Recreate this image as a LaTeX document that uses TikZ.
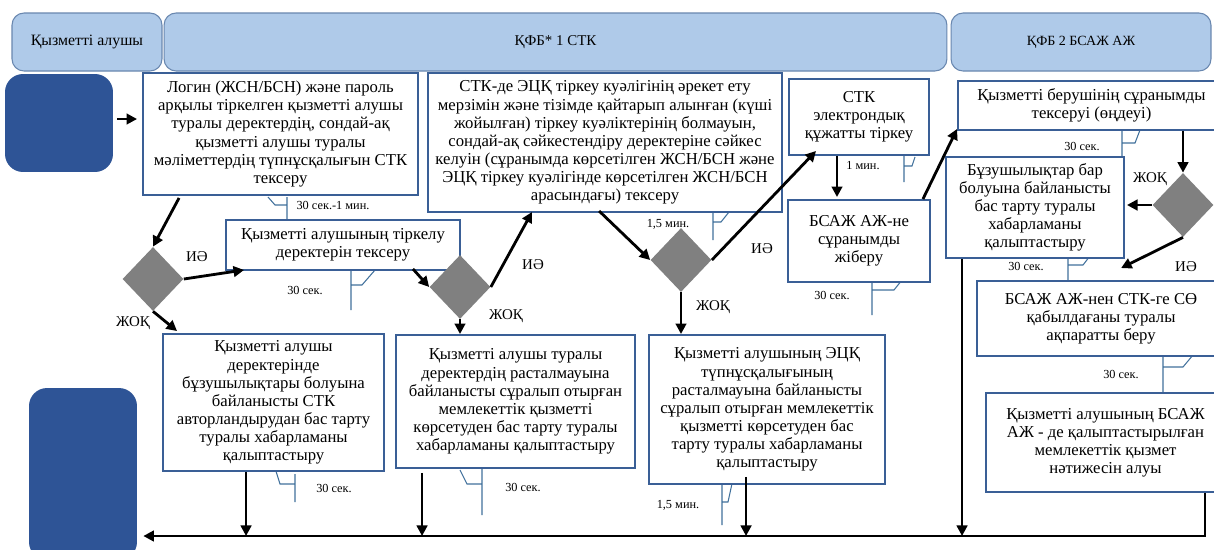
\documentclass[tikz,border=0pt]{standalone}
\usepackage{fontspec}
\setmainfont{Liberation Serif}
\usetikzlibrary{shapes.geometric,calc,arrows.meta}

\definecolor{laneblue}{RGB}{175,202,233}
\definecolor{laneedge}{RGB}{105,135,175}
\definecolor{termblue}{RGB}{46,84,150}
\definecolor{boxedge}{RGB}{58,95,150}
\definecolor{calloutblue}{RGB}{65,113,156}
\definecolor{diagray}{RGB}{128,128,128}

\begin{document}
\begin{tikzpicture}[x=0.02cm,y=-0.02cm,
  lane/.style={draw=laneedge,fill=laneblue,line width=0.6pt,rounded corners=0.24cm,inner sep=0pt},
  term/.style={fill=termblue,rounded corners=0.36cm,inner sep=0pt,minimum width=2.16cm},
  box/.style={draw=boxedge,fill=white,line width=1.1pt,align=center,inner sep=2pt,font=\fontsize{9.5}{10.3}\selectfont},
  dia/.style={diamond,fill=diagray,inner sep=0pt,minimum width=1.22cm,minimum height=1.28cm},
  arr/.style={line width=1.6pt,-{Triangle[length=6pt,width=6pt]}},
  lbl/.style={inner sep=1pt,font=\fontsize{8.5}{9}\selectfont},
  tlbl/.style={inner sep=1pt,font=\fontsize{7}{7.5}\selectfont},
  cline/.style={draw=calloutblue,line width=0.6pt}]
  \clip (0,0) rectangle (1214,549);
  \fill[white] (0,0) rectangle (1214,549);
  % lanes
  \node[lane,minimum width=3cm,minimum height=1.16cm,font=\fontsize{9}{10}\selectfont] (lane1) at (87,42) {Қызметті алушы};
  \node[lane,minimum width=15.66cm,minimum height=1.16cm,font=\fontsize{8.5}{9}\selectfont] (lane2) at (555.5,42) {ҚФБ* 1 СТК};
  \node[lane,minimum width=5.2cm,minimum height=1.16cm,font=\fontsize{8}{9}\selectfont] (lane3) at (1081,42) {ҚФБ 2 БСАЖ АЖ};
  % start and end
  \node[term,minimum height=1.96cm] (t1) at (59,123) {};
  \node[term,minimum height=3.44cm] (t2) at (83,474) {};
  % callouts
  \draw[cline] (287,197) -- (287,224) (287,205) -- (275,205) -- (268,197);
  \draw[cline] (351,267) -- (351,310) (351,285) -- (362,285) -- (375,270);
  \draw[cline] (713,203) -- (713,240) (713,222) -- (721,222) -- (733,207);
  \draw[cline] (904,147) -- (904,182) (904,166) -- (912,166) -- (915,157);
  \draw[cline] (872,275) -- (872,315) (872,290) -- (894,290) -- (902,280);
  \draw[cline] (1122,125) -- (1122,160) (1122,143) -- (1135,143) -- (1140,130);
  \draw[cline] (1068,248) -- (1068,283) (1068,265) -- (1083,265) -- (1093,252);
  \draw[cline] (1163,350) -- (1163,395) (1163,367) -- (1183,367) -- (1193,355);
  \draw[cline] (295,474) -- (295,502) (295,484) -- (280,484) -- (275,468);
  \draw[cline] (482,467) -- (482,515) (482,484) -- (467,484) -- (460,470);
  \draw[cline] (722,482) -- (722,525) (722,502) -- (728,502) -- (733,479);
  % boxes
  \node[box,minimum width=5.5cm,minimum height=2.44cm] (b1) at (280.5,134) {Логин (ЖСН/БСН) және пароль\\арқылы тіркелген қызметті алушы\\туралы деректердің, сондай-ақ\\қызметті алушы туралы\\мәліметтердің түпнұсқалығын СТК\\тексеру};
  \node[box,minimum width=7.08cm,minimum height=2.78cm] (b2) at (605,142.5) {СТК-де ЭЦҚ тіркеу куәлігінің әрекет ету\\мерзімін және тізімде қайтарып алынған (күші\\жойылған) тіркеу куәліктерінің болмауын,\\сондай-ақ сәйкестендіру деректеріне сәйкес\\келуін (сұранымда көрсетілген ЖСН/БСН және\\ЭЦҚ тіркеу куәлігінде көрсетілген ЖСН/БСН\\арасындағы) тексеру};
  \node[box,minimum width=2.8cm,minimum height=1.52cm] (b3) at (859,117) {СТК\\электрондық\\құжатты тіркеу};
  \node[box,minimum width=2.84cm,minimum height=1.64cm] (b4) at (859,241) {БСАЖ АЖ-не\\сұранымды\\жіберу};
  \node[box,minimum width=5.34cm,minimum height=0.98cm] (b5) at (1091.5,105.5) {Қызметті берушінің сұранымды\\тексеруі (өңдеуі)};
  \node[box,minimum width=3.56cm,minimum height=2.02cm] (b6) at (1035,207.5) {Бұзушылықтар бар\\болуына байланысты\\бас тарту туралы\\хабарламаны\\қалыптастыру};
  \node[box,minimum width=4.68cm,minimum height=1cm] (b7) at (343,245) {Қызметті алушының тіркелу\\деректерін тексеру};
  \node[box,minimum width=4.42cm,minimum height=2.74cm] (b8) at (273.5,402.5) {Қызметті алушы\\деректерінде\\бұзушылықтары болуына\\байланысты СТК\\авторландырудан бас тарту\\туралы хабарламаны\\қалыптастыру};
  \node[box,minimum width=4.78cm,minimum height=2.66cm] (b9) at (515.5,401.5) {Қызметті алушы туралы\\деректердің расталмауына\\байланысты сұралып отырған\\мемлекеттік қызметті\\көрсетуден бас тарту туралы\\хабарламаны қалыптастыру};
  \node[box,minimum width=4.72cm,minimum height=2.98cm] (b10) at (767,409.5) {Қызметті алушының ЭЦҚ\\түпнұсқалығының\\расталмауына байланысты\\сұралып отырған мемлекеттік\\қызметті көрсетуден бас\\тарту туралы хабарламаны\\қалыптастыру};
  \node[box,minimum width=4.96cm,minimum height=1.5cm] (b11) at (1101,318.5) {БСАЖ АЖ-нен СТК-ге СӨ\\қабылдағаны туралы\\ақпаратты беру};
  \node[box,minimum width=4.78cm,minimum height=1.98cm] (b12) at (1105.5,442.5) {Қызметті алушының БСАЖ\\АЖ - де қалыптастырылған\\мемлекеттік қызмет\\нәтижесін алуы};
  % decisions
  \node[dia] (d1) at (153,279) {};
  \node[dia] (d2) at (460,287) {};
  \node[dia] (d3) at (681,260) {};
  \node[dia] (d4) at (1183,205) {};
  % time labels
  \node[tlbl] (c1) at (333,205) {30 сек.-1 мин.};
  \node[tlbl] (c2) at (305,290) {30 сек.};
  \node[tlbl] (c3) at (668,224) {1,5 мин.};
  \node[tlbl] (c4) at (863,166) {1 мин.};
  \node[tlbl] (c5) at (832,295) {30 сек.};
  \node[tlbl] (c6) at (1082,146) {30 сек.};
  \node[tlbl] (c7) at (1026,266) {30 сек.};
  \node[tlbl] (c8) at (1121,374) {30 сек.};
  \node[tlbl] (c9) at (334,488) {30 сек.};
  \node[tlbl] (c10) at (523,487) {30 сек.};
  \node[tlbl] (c11) at (678,505) {1,5 мин.};
  % yes / no labels
  \node[lbl] (y1) at (197,257) {ИӘ};
  \node[lbl] (n1) at (133,323) {ЖОҚ};
  \node[lbl] (y2) at (533,265) {ИӘ};
  \node[lbl,fill=white,inner sep=3pt] (n2) at (506,316) {ЖОҚ};
  \node[lbl] (y3) at (762,249) {ИӘ};
  \node[lbl] (n3) at (713,307) {ЖОҚ};
  \node[lbl] (n4) at (1150,179) {ЖОҚ};
  \node[lbl] (y4) at (1186,267) {ИӘ};
  % flow
  \draw[arr] ($(t1.east)+(4,-4)$) -- ($(b1.west)+(-5,-15)$);
  \draw[arr] ($(b1.south west)+(37,2)$) -- (d1.north);
  \draw[arr] (d1.east) -- ($(b7.south west)+(19,-1)$);
  \draw[arr] (d1.south) -- ($(b8.north west)+(15,-2)$);
  \draw[arr] ($(b7.south east)+(-48,-2)$) -- (d2.west);
  \draw[arr] (d2.east) -- ($(b2.south west)+(105,-1)$);
  \draw[arr] (d2.south) -- (d2.south |- b9.north);
  \draw[arr] ($(b2.south west)+(172,-2)$) -- (d3.west);
  \draw[arr] (d3.east) -- ($(b3.south west)+(28,-5)$);
  \draw[arr] (d3.south) -- (d3.south |- b10.north);
  \draw[arr] ($(b3.south)+(-22,0)$) -- ($(b4.north)+(-22,-2)$);
  \draw[arr] ($(b4.north east)+(-8,0)$) -- ($(b5.south west)+(0,-2)$);
  \draw[arr] (d4.north |- b5.south) -- (d4.north);
  \draw[arr] (d4.west) -- ($(b6.east |- d4.west)+(2,0)$);
  \draw[arr] (d4.south) -- ($(b11.north west)+(145,-12)$);
  % return to the service user
  \coordinate (rc) at (1205,536);
  \draw[arr] (rc |- b12.south) -- (rc) -- ($(t2.east |- rc)+(6,0)$);
  \draw[arr] ($(b6.south west)+(17,0)$) coordinate (b6d) -- (b6d |- rc);
  \draw[arr] ($(b8.south west)+(84,0)$) coordinate (b8d) -- (b8d |- rc);
  \draw[arr] ($(b9.south west)+(27,4)$) coordinate (b9d) -- (b9d |- rc);
  \draw[arr] ($(b10.south west)+(98,-8)$) coordinate (b10d) -- (b10d |- rc);
\end{tikzpicture}
\end{document}
